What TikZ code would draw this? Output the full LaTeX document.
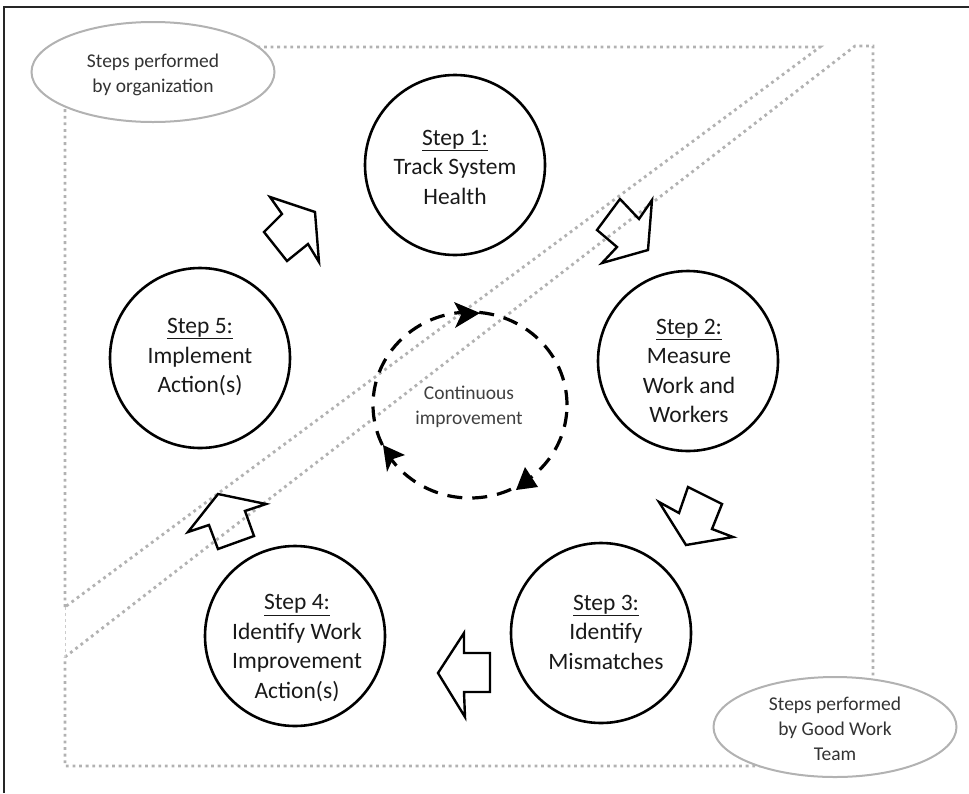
\documentclass[tikz,border=0pt]{standalone}
\usepackage{fontspec}
\setmainfont{Carlito}
\usetikzlibrary{shapes.geometric}
\begin{document}
\begin{tikzpicture}[x=1pt,y=-1pt,
  stepcircle/.style={circle, draw=black, line width=2.6pt, minimum size=180pt, inner sep=0pt},
  steptext/.style={align=center, font=\fontsize{23.5}{29.5}\selectfont, text=black!90, inner sep=0pt},
  regionline/.style={draw=gray!60, line width=2.8pt, dash pattern=on 2.8pt off 3.8pt},
  note/.style={ellipse, draw=gray!60, line width=2pt, fill=white, minimum width=243pt, minimum height=100pt, inner sep=0pt},
  notetext/.style={align=center, font=\fontsize{19.5}{25}\selectfont, text=black!80, inner sep=0pt},
  blockarrow/.style={draw=black, line width=2.4pt, line join=miter},
  cyc/.style={ellipse, draw=black, line width=3.2pt, dash pattern=on 15pt off 10pt, minimum width=194pt, minimum height=186pt, inner sep=0pt},
  cyctip/.style={fill=black}
]
\useasboundingbox (0,0) rectangle (969,793);
% outer frame
\draw[black!85, line width=2.5pt] (4,793) -- (4,7) -- (969,7);
% regions
\coordinate (ulA) at (65,607);
\coordinate (ulB) at (65,47);
\coordinate (ulC) at (820,47);
\coordinate (lrA) at (65,657);
\coordinate (lrB) at (855,46);
\coordinate (lrC) at (873,46);
\coordinate (lrD) at (873,766);
\coordinate (lrE) at (65,766);
\draw[regionline] (ulA) -- (ulB) -- (ulC) -- cycle;
\draw[regionline] (lrA) -- (lrB) -- (lrC) -- (lrD) -- (lrE) -- cycle;
\draw[gray!40, line width=0.6pt, dashed] (ulA) -- (lrA);
% notes
\node[note] (org) at (153,72) {};
\node[notetext] at (153,75) {Steps performed\\by organization};
\node[note] (gwt) at (835,727) {};
\node[notetext] at (835,729) {Steps performed\\by Good Work\\Team};
% steps
\node[stepcircle] (s1) at (455,165) {};
\node[steptext] at (455,167) {\underline{Step 1:}\\Track System\\Health};
\node[stepcircle] (s2) at (688,361) {};
\node[steptext] at (689,371) {\underline{Step 2:}\\Measure\\Work and\\Workers};
\node[stepcircle] (s3) at (601,633) {};
\node[steptext] at (606,632) {\underline{Step 3:}\\Identify\\Mismatches};
\node[stepcircle] (s4) at (295,636) {};
\node[steptext] at (297,648) {\underline{Step 4:}\\Identify Work\\Improvement\\Action(s)};
\node[stepcircle] (s5) at (200,358) {};
\node[steptext] at (200,357) {\underline{Step 5:}\\Implement\\Action(s)};
% continuous improvement
\node[cyc] (ci) at (470,405) {};
\node[notetext, text=black!75] at (469,407) {Continuous\\improvement};
\fill[cyctip] (454,302) -- (480,313) -- (455,328) -- (461,315) -- cycle;
\fill[cyctip] (383,445) -- (405,455) -- (393,459) -- (387,472) -- cycle;
\fill[cyctip] (525,467) -- (538,487) -- (516,490) -- cycle;
% block arrows
\draw[blockarrow] (270,197) -- (315,212) -- (319,262) -- (308,244) -- (287,261) -- (264,232) -- (282,214) -- cycle;
\draw[blockarrow] (620,199) -- (639,219) -- (652,200) -- (648,250) -- (602,263) -- (617,247) -- (597,230) -- cycle;
\draw[blockarrow] (688,487) -- (722,504) -- (712,529) -- (733,537) -- (686,545) -- (659,502) -- (679,513) -- cycle;
\draw[blockarrow] (438,673) -- (464,633) -- (464,653) -- (490,653) -- (490,692) -- (464,692) -- (465,717) -- cycle;
\draw[blockarrow] (218,494) -- (266,504) -- (245,511) -- (254,536) -- (218,549) -- (209,525) -- (188,532) -- cycle;
\end{tikzpicture}
\end{document}
